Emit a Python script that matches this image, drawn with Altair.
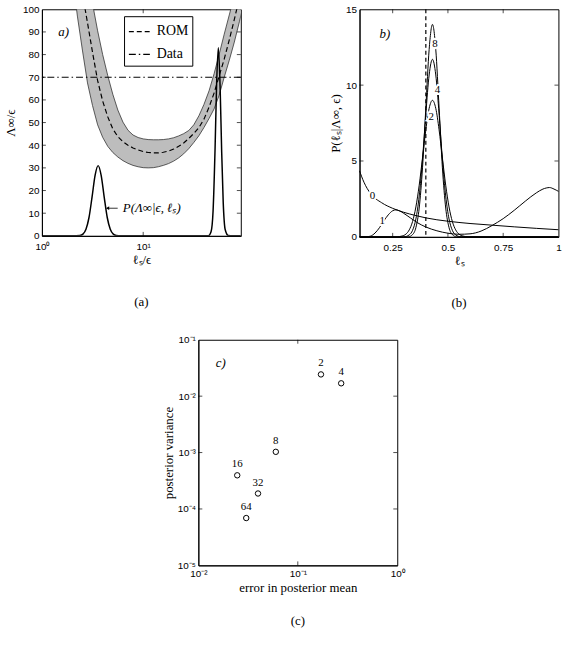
import altair as alt
import pandas as pd

SERIF = "Liberation Serif"
SANS = "Liberation Sans"

# ---------------- panel (a) ----------------
a_x = [2.00, 2.24, 2.51, 2.82, 3.16, 3.55, 3.98, 4.47, 5.01, 5.62, 6.31, 7.08, 7.94, 8.91,
       10.0, 11.2, 12.6, 14.1, 15.8, 17.8, 20.0, 22.4, 25.1, 28.2, 31.6, 35.5, 39.8, 44.7,
       50.1, 56.2, 63.1, 70.8, 79.4, 89.1, 100.0]
a_lower = [115, 97, 82, 67.5, 57.5, 49, 43.5, 39.5, 36.8, 34.8, 33.2, 32, 31.1, 30.5,
           30.1, 30, 30.1, 30.5, 31.1, 31.9, 33, 34.4, 36.2, 38.5, 41.2, 44.2, 47.8, 51.8,
           56, 62, 70, 77.5, 85.5, 94.5, 104]
a_rom = [135, 120, 107, 94, 81, 68.5, 59.5, 52.5, 47.2, 43.8, 41.6, 40, 38.8, 37.9,
         37.2, 36.8, 36.6, 36.6, 36.9, 37.4, 38.3, 39.5, 41, 43, 45.2, 47.8, 51.5, 56.8,
         63, 70.5, 78, 86.5, 95.5, 105, 115]
a_upper = [166, 147, 130, 115, 102.5, 90.5, 80, 70.7, 62.5, 55.5, 50.2, 46.6, 44.5, 43.4,
           42.8, 42.5, 42.4, 42.4, 42.5, 42.8, 43.3, 44.1, 45.1, 46.5, 49, 53, 58, 64,
           71.5, 80, 89, 97.5, 106, 115, 125]
a_peak_x = [1.0, 2.0, 2.371, 2.541, 2.723, 2.917, 3.126, 3.350, 3.589, 3.846, 4.121, 4.416,
            4.732, 5.070, 5.433, 6.0, 44.0, 46.77, 48.98, 51.29, 53.09, 55.21, 57.54, 59.57,
            61.66, 64.57, 69.18, 92.0]
a_peak_y = [0, 0, 0.15, 0.75, 2.9, 8.1, 17.1, 26.7, 31, 26.7, 17.1, 8.1,
            2.9, 0.75, 0.15, 0, 0, 1.8, 11, 39, 67, 83, 65, 37,
            15, 2.7, 0.2, 0]
a_series = ["ROM", "Data"]
a_data_level = [70]
a_yticks = [10, 20, 30, 40, 50, 60, 70, 80, 90]
a_xticks = [10]

# ---------------- panel (b) ----------------
b0_x = [0.1, 0.12, 0.15, 0.2, 0.25, 0.3, 0.35, 0.4, 0.5, 0.6, 0.7, 0.8, 0.9, 1.0]
b0_y = [4.35, 3.6, 2.85, 2.25, 1.88, 1.62, 1.42, 1.25, 1.03, 0.88, 0.77, 0.66, 0.56, 0.47]
b1_x = [0.1, 0.13, 0.15, 0.17, 0.19, 0.21, 0.23, 0.25, 0.265, 0.28, 0.3, 0.33, 0.36, 0.4,
        0.45, 0.5, 0.55, 0.6, 0.65, 0.7, 0.75, 0.8, 0.85, 0.9, 0.93, 0.96, 0.98, 1.0]
b1_y = [0, 0, 0.05, 0.25, 0.6, 1.05, 1.45, 1.72, 1.78, 1.72, 1.55, 1.25, 0.95, 0.65,
        0.4, 0.24, 0.17, 0.2, 0.38, 0.75, 1.2, 1.75, 2.35, 2.9, 3.15, 3.25, 3.15, 3.0]
b2_x = [0.1, 0.27, 0.29, 0.31, 0.325, 0.34, 0.355, 0.37, 0.385, 0.4, 0.415, 0.43, 0.445,
        0.46, 0.475, 0.49, 0.505, 0.52, 0.535, 0.55, 0.57, 0.59, 1.0]
b2_y = [0, 0, 0.05, 0.18, 0.46, 1.01, 1.97, 3.4, 5.2, 7.06, 8.47, 9, 8.47,
        7.06, 5.2, 3.4, 1.97, 1.01, 0.46, 0.18, 0.05, 0, 0]
b4_x = [0.1, 0.30, 0.325, 0.34, 0.355, 0.37, 0.385, 0.4, 0.415, 0.43, 0.445, 0.46, 0.475,
        0.49, 0.505, 0.52, 0.535, 0.56, 1.0]
b4_y = [0, 0, 0.13, 0.43, 1.18, 2.69, 5.12, 8.1, 10.67, 11.7, 10.67, 8.1, 5.12,
        2.69, 1.18, 0.43, 0.13, 0, 0]
b8_x = [0.1, 0.32, 0.34, 0.355, 0.37, 0.385, 0.40, 0.415, 0.43, 0.445, 0.46, 0.475, 0.49,
        0.505, 0.52, 0.54, 1.0]
b8_y = [0, 0, 0.15, 0.61, 1.9, 4.55, 8.5, 12.35, 14, 12.35, 8.5, 4.55, 1.9,
        0.61, 0.15, 0, 0]
b_lab_text = ["0", "1", "2", "4", "8"]
b_lab_x = [0.158, 0.203, 0.424, 0.453, 0.441]
b_lab_y = [2.7, 1.06, 7.9, 9.7, 12.7]
b_vline = [0.4]
b_xticks = [0.25, 0.5, 0.75]
b_yticks = [5, 10]

# ---------------- panel (c) ----------------
c_err = [0.171, 0.273, 0.0601, 0.0246, 0.0398, 0.0303]
c_var = [0.0243, 0.0169, 0.00103, 3.95e-4, 1.88e-4, 6.9e-5]
c_lab = ["2", "4", "8", "16", "32", "64"]
c_xticks = [0.1]
c_yticks = [1e-4, 1e-3, 1e-2]

# ================= build panel (a) =================
AW, AH = 201, 229
a_xscale = alt.Scale(type="log", domain=[1, 92], nice=False)
a_yscale = alt.Scale(domain=[0, 100], nice=False)
a_xaxis = alt.Axis(values=[1, 10], labelExpr="datum.value < 5 ? '10⁰' : '10¹'",
                   title="ℓₛ/ϵ", labelFlush=False, labelOverlap=False, labelPadding=6,
                   titlePadding=2)
a_yaxis = alt.Axis(values=list(range(0, 101, 10)), title="Λ∞/ϵ", titlePadding=5,
                   labelOverlap=False)
xa = alt.X("x:Q", scale=a_xscale, axis=a_xaxis)
ya = alt.Y("y:Q", scale=a_yscale, axis=a_yaxis)

band_df = pd.DataFrame({"x": a_x, "y": a_lower, "y2": a_upper, "rom": a_rom})
band_df["series"] = "ROM"
band = alt.Chart(band_df).mark_area(color="#bdbdbd", clip=True).encode(x=xa, y=ya, y2="y2:Q")
lower_line = alt.Chart(band_df).mark_line(color="#333", strokeWidth=0.8, clip=True).encode(x=xa, y=ya)
upper_line = alt.Chart(band_df).mark_line(color="#333", strokeWidth=0.8, clip=True).encode(
    x=xa, y=alt.Y("y2:Q", scale=a_yscale, axis=a_yaxis))

dash_scale = alt.Scale(domain=a_series, range=[[5, 3], [7, 3, 1.5, 3]])
dash_legend = alt.Legend(orient="none", legendX=83, legendY=7, title=None, symbolType="stroke",
                         symbolStrokeColor="black", symbolStrokeWidth=1.2, symbolSize=450,
                         labelFont=SERIF, labelFontSize=14, labelColor="black",
                         strokeColor="black", fillColor="white", padding=4, rowPadding=4,
                         labelOffset=6)
rom_line = alt.Chart(band_df).mark_line(color="black", strokeWidth=1.2, clip=True).encode(
    x=xa, y=alt.Y("rom:Q", scale=a_yscale, axis=a_yaxis),
    strokeDash=alt.StrokeDash("series:N", scale=dash_scale, legend=dash_legend))
data_df = pd.DataFrame({"y": a_data_level, "series": ["Data"]})
data_rule = alt.Chart(data_df).mark_rule(color="black", strokeWidth=1).encode(
    y=ya, strokeDash=alt.StrokeDash("series:N", scale=dash_scale, legend=dash_legend))
peak_df = pd.DataFrame({"x": a_peak_x, "y": a_peak_y})
peaks = alt.Chart(peak_df).mark_line(color="black", strokeWidth=1.5, interpolate="monotone",
                                     clip=True).encode(x=xa, y=ya)
ann_df = pd.DataFrame({"x": [4.45], "x2": [5.6], "y": [12.2], "tx": [6.3],
                       "t": ["P(Λ∞|ϵ, ℓₛ)"]})
ann_rule = alt.Chart(ann_df).mark_rule(color="black", strokeWidth=0.8).encode(x=xa, x2="x2:Q", y=ya)
ann_head = alt.Chart(ann_df).mark_point(shape="triangle-left", filled=True, color="black",
                                        size=14, opacity=1).encode(x=xa, y=ya)
ann_text = alt.Chart(ann_df).mark_text(align="left", font=SERIF, fontSize=13, fontStyle="italic",
                                       color="black").encode(
    x=alt.X("tx:Q", scale=a_xscale, axis=a_xaxis), y=ya, text="t:N")
alab_df = pd.DataFrame({"x": [1.64], "y": [90], "t": ["a)"]})
alab = alt.Chart(alab_df).mark_text(font=SERIF, fontSize=13, fontStyle="italic", color="black").encode(
    x=xa, y=ya, text="t:N")
aytick_df = pd.DataFrame({"y": a_yticks})
a_tl = alt.Chart(aytick_df).mark_rule(color="black", strokeWidth=0.7).encode(
    y=ya, x=alt.value(0), x2=alt.value(4))
a_tr = alt.Chart(aytick_df).mark_rule(color="black", strokeWidth=0.7).encode(
    y=ya, x=alt.value(AW - 4), x2=alt.value(AW))
axtick_df = pd.DataFrame({"x": a_xticks})
a_tb = alt.Chart(axtick_df).mark_rule(color="black", strokeWidth=0.7).encode(
    x=xa, y=alt.value(AH - 4), y2=alt.value(AH))
a_tt = alt.Chart(axtick_df).mark_rule(color="black", strokeWidth=0.7).encode(
    x=xa, y=alt.value(0), y2=alt.value(4))

cap = dict(orient="bottom", frame="group", anchor="middle", font=SERIF, fontSize=13,
           fontWeight="normal", color="black")

panel_a = alt.layer(band, lower_line, upper_line, rom_line, data_rule, peaks, ann_rule, ann_head,
                    ann_text, alab, a_tl, a_tr, a_tb, a_tt).properties(
    width=AW, height=AH, title=alt.TitleParams("(a)", offset=30, **cap))

# ================= build panel (b) =================
BW, BH = 201, 230
xb = alt.X("x:Q", scale=alt.Scale(domain=[0.1, 1], nice=False),
           axis=alt.Axis(values=[0.25, 0.5, 0.75, 1], title="ℓₛ", labelFlush=False,
                         labelExpr="datum.value == 1 ? '1' : format(datum.value, '.2~f')",
                         labelPadding=6, titlePadding=2))
yb = alt.Y("y:Q", scale=alt.Scale(domain=[0, 15], nice=False),
           axis=alt.Axis(values=[0, 5, 10, 15], title="P(ℓₛ|Λ∞, ϵ)", titlePadding=3))
rows = []
for cid, xs, ys in [("0", b0_x, b0_y), ("1", b1_x, b1_y), ("2", b2_x, b2_y),
                    ("4", b4_x, b4_y), ("8", b8_x, b8_y)]:
    for xv, yv in zip(xs, ys):
        rows.append({"x": xv, "y": yv, "c": cid})
b_df = pd.DataFrame(rows)
b_lines = alt.Chart(b_df).mark_line(color="black", strokeWidth=1, interpolate="monotone").encode(
    x=xb, y=yb, detail="c:N")
vline = alt.Chart(pd.DataFrame({"x": b_vline})).mark_rule(
    color="black", strokeWidth=1.2, strokeDash=[4, 3]).encode(x=xb)
blab_df = pd.DataFrame({"x": b_lab_x, "y": b_lab_y, "t": b_lab_text})
blab_halo = alt.Chart(blab_df).mark_text(font=SERIF, fontSize=11, color="white", stroke="white",
                                         strokeWidth=4).encode(x=xb, y=yb, text="t:N")
blab = alt.Chart(blab_df).mark_text(font=SERIF, fontSize=11, color="black").encode(
    x=xb, y=yb, text="t:N")
bl_df = pd.DataFrame({"x": [0.215], "y": [13.4], "t": ["b)"]})
blt = alt.Chart(bl_df).mark_text(font=SERIF, fontSize=13, fontStyle="italic", color="black").encode(
    x=xb, y=yb, text="t:N")
bxt = pd.DataFrame({"x": b_xticks})
byt = pd.DataFrame({"y": b_yticks})
b_tb = alt.Chart(bxt).mark_rule(color="black", strokeWidth=0.7).encode(x=xb, y=alt.value(BH - 4), y2=alt.value(BH))
b_tt = alt.Chart(bxt).mark_rule(color="black", strokeWidth=0.7).encode(x=xb, y=alt.value(0), y2=alt.value(4))
b_tl = alt.Chart(byt).mark_rule(color="black", strokeWidth=0.7).encode(y=yb, x=alt.value(0), x2=alt.value(4))
b_tr = alt.Chart(byt).mark_rule(color="black", strokeWidth=0.7).encode(y=yb, x=alt.value(BW - 4), x2=alt.value(BW))

panel_b = alt.layer(b_lines, vline, blab_halo, blab, blt, b_tb, b_tt, b_tl, b_tr).properties(
    width=BW, height=BH, title=alt.TitleParams("(b)", offset=30, **cap))

# ================= build panel (c) =================
CW, CH = 201, 228
xc = alt.X("x:Q", scale=alt.Scale(type="log", domain=[0.01, 1], nice=False),
           axis=alt.Axis(values=[0.01, 0.1, 1], title="error in posterior mean", labelFlush=False,
                         labelOverlap=False,
                         labelExpr="datum.value < 0.05 ? '10⁻²' : datum.value < 0.5 ? '10⁻¹' : '10⁰'",
                         titlePadding=3))
yc = alt.Y("y:Q", scale=alt.Scale(type="log", domain=[1e-5, 0.1], nice=False),
           axis=alt.Axis(values=[1e-5, 1e-4, 1e-3, 1e-2, 1e-1], title="posterior variance",
                         labelOverlap=False,
                         labelExpr="'10' + ['⁰','⁻¹','⁻²','⁻³','⁻⁴','⁻⁵'][round(-log(datum.value)/LN10)]",
                         titlePadding=2))
c_df = pd.DataFrame({"x": c_err, "y": c_var, "t": c_lab})
c_pts = alt.Chart(c_df).mark_point(shape="circle", filled=False, color="black", size=30,
                                   strokeWidth=1, opacity=1).encode(x=xc, y=yc)
c_txt = alt.Chart(c_df).mark_text(font=SERIF, fontSize=11, color="black", dy=-11).encode(
    x=xc, y=yc, text="t:N")
cl_df = pd.DataFrame({"x": [0.0168], "y": [0.039], "t": ["c)"]})
clt = alt.Chart(cl_df).mark_text(font=SERIF, fontSize=13, fontStyle="italic", color="black").encode(
    x=xc, y=yc, text="t:N")
cxt = pd.DataFrame({"x": c_xticks})
cyt = pd.DataFrame({"y": c_yticks})
c_tb = alt.Chart(cxt).mark_rule(color="black", strokeWidth=0.7).encode(x=xc, y=alt.value(CH - 4), y2=alt.value(CH))
c_tt = alt.Chart(cxt).mark_rule(color="black", strokeWidth=0.7).encode(x=xc, y=alt.value(0), y2=alt.value(4))
c_tl = alt.Chart(cyt).mark_rule(color="black", strokeWidth=0.7).encode(y=yc, x=alt.value(0), x2=alt.value(4))
c_tr = alt.Chart(cyt).mark_rule(color="black", strokeWidth=0.7).encode(y=yc, x=alt.value(CW - 4), x2=alt.value(CW))

panel_c = alt.layer(c_pts, c_txt, clt, c_tb, c_tt, c_tl, c_tr).properties(
    width=CW, height=CH, title=alt.TitleParams("(c)", offset=21, **cap))

top = alt.hconcat(panel_a, panel_b, spacing=88).resolve_scale(
    x="independent", y="independent", strokeDash="independent").resolve_legend(strokeDash="independent")
chart = alt.vconcat(top, panel_c, spacing=23, center=True).resolve_scale(
    x="independent", y="independent", strokeDash="independent").resolve_legend(
    strokeDash="independent").properties(
    padding={"left": 4, "top": 0, "right": 2, "bottom": 2}, background="white"
).configure_view(stroke="black", strokeWidth=1).configure_axis(
    grid=False, ticks=False, labelFont=SANS, labelFontSize=10, labelColor="black",
    labelPadding=3, domainColor="black", domainWidth=1, titleFont=SERIF, titleFontSize=13,
    titleFontWeight="normal", titleColor="black")

chart.save("out.html", embed_options={"renderer": "svg", "actions": False})
